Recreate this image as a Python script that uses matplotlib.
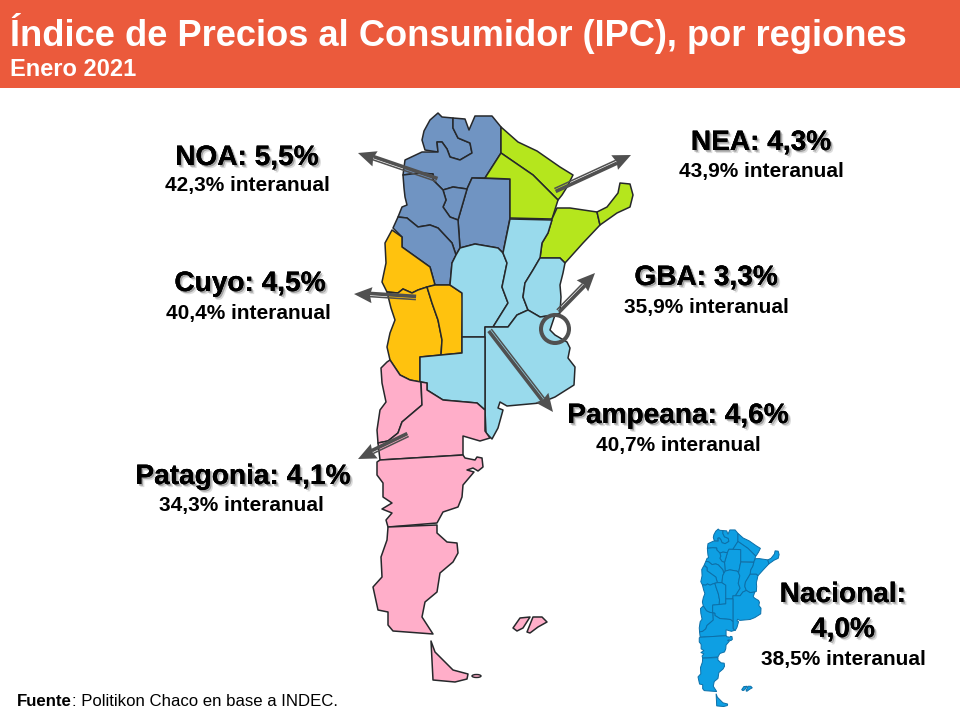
import matplotlib
matplotlib.use("Agg")
import matplotlib.pyplot as plt
from matplotlib.patches import Polygon, Circle, Rectangle, Ellipse
import matplotlib.patheffects as pe
import numpy as np

plt.rcParams['font.family'] = ['Liberation Sans', 'DejaVu Sans']

# text blocks
title = "Índice de Precios al Consumidor (IPC), por regiones"
subtitle = "Enero 2021"
source_bold = "Fuente"
source_rest = ": Politikon Chaco en base a INDEC."

region_names = ["NOA: 5,5%", "NEA: 4,3%", "Cuyo: 4,5%", "GBA: 3,3%", "Pampeana: 4,6%", "Patagonia: 4,1%"]
region_yoy = ["42,3% interanual", "43,9% interanual", "40,4% interanual",
              "35,9% interanual", "40,7% interanual", "34,3% interanual"]
name_x = [247, 761, 250, 706, 678, 243]
yoy_x = [247, 761, 248, 706, 678, 241]
name_y = [158, 143, 284, 278, 416, 477]
yoy_y = [186, 171, 313, 307, 445, 506]

# arrows, tail then head
arrow_tails = [(437, 180), (555, 190), (416, 298), (558, 311), (490, 330), (408, 435)]
arrow_heads = [(358, 153), (631, 155), (354, 294), (595, 273), (553, 412), (358, 459)]

# provinces, outlines in pixels
jujuy = [(438, 113), (442, 117), (453, 118), (453, 128), (458, 138), (470, 143), (472, 153), (460, 160), (450, 157),
         (447, 149), (442, 142), (437, 142), (438, 152), (425, 150), (422, 140), (424, 131), (430, 120)]
salta = [(453, 118), (465, 119), (469, 130), (475, 116), (492, 116), (501, 127), (501, 153), (485, 178), (472, 178),
         (467, 189), (453, 187), (443, 190), (433, 180), (433, 174), (420, 173), (403, 175), (405, 160), (422, 152),
         (438, 152), (437, 142), (442, 142), (447, 149), (450, 157), (460, 160), (472, 153), (470, 143), (458, 138),
         (453, 128)]
santiago = [(472, 178), (510, 179), (510, 218), (503, 253), (498, 248), (475, 244), (460, 248), (458, 220), (467, 189)]
tucuman = [(443, 190), (453, 187), (467, 189), (458, 220), (450, 217), (443, 207), (446, 200)]
catamarca = [(398, 217), (407, 218), (418, 227), (430, 225), (438, 228), (452, 243), (456, 255), (460, 248), (458, 220),
             (450, 217), (443, 207), (446, 200), (443, 190), (433, 180), (433, 174), (420, 173), (403, 175), (404, 188),
             (405, 197), (407, 205), (402, 207)]
la_rioja = [(398, 217), (393, 228), (402, 237), (402, 247), (430, 267), (435, 285), (450, 285), (452, 263), (456, 255),
            (452, 243), (438, 228), (430, 225), (418, 227), (407, 218)]
formosa = [(501, 127), (518, 142), (537, 151), (560, 167), (573, 175), (567, 187), (562, 195), (558, 200), (533, 175),
           (501, 153)]
chaco = [(501, 153), (533, 175), (558, 200), (552, 219), (510, 218), (510, 179), (485, 178)]
corrientes = [(540, 258), (542, 243), (548, 233), (552, 219), (557, 208), (570, 208), (597, 212), (600, 225), (583, 243),
              (565, 263), (560, 258)]
misiones = [(597, 212), (607, 207), (618, 193), (620, 183), (630, 184), (633, 195), (630, 207), (617, 213), (600, 225)]
san_juan = [(392, 230), (402, 237), (402, 247), (430, 267), (435, 285), (427, 287), (418, 290), (412, 293), (403, 289),
            (398, 293), (387, 292), (382, 282), (386, 263), (385, 243)]
mendoza = [(387, 292), (398, 293), (403, 289), (412, 293), (418, 290), (427, 287), (432, 303), (438, 320), (442, 340),
           (441, 355), (420, 357), (420, 382), (410, 380), (400, 375), (390, 360), (387, 347), (390, 333), (395, 320),
           (391, 308)]
san_luis = [(427, 287), (435, 285), (450, 285), (462, 293), (463, 300), (462, 333), (462, 353), (441, 355), (442, 340),
            (438, 320), (432, 303)]
cordoba = [(456, 255), (460, 248), (475, 244), (498, 248), (503, 253), (507, 263), (502, 287), (508, 303), (493, 327),
           (485, 327), (485, 337), (462, 337), (462, 293), (450, 285), (452, 263)]
santa_fe = [(510, 219), (552, 220), (548, 233), (542, 243), (540, 258), (533, 270), (525, 283), (523, 297), (528, 310),
            (517, 315), (508, 327), (493, 327), (508, 303), (502, 287), (507, 263), (503, 253)]
entre_rios = [(540, 258), (560, 258), (565, 263), (563, 273), (560, 285), (561, 297), (560, 313), (555, 315), (540, 317),
              (528, 310), (523, 297), (525, 283), (533, 270)]
buenos_aires = [(485, 327), (508, 327), (517, 315), (528, 310), (540, 317), (555, 315), (550, 330), (555, 335), (567, 342),
                (570, 348), (568, 358), (575, 367), (574, 385), (555, 397), (540, 403), (507, 406), (500, 402), (498, 408),
                (503, 410), (498, 428), (492, 439), (486, 433), (485, 410)]
la_pampa = [(420, 357), (441, 355), (462, 353), (462, 337), (485, 337), (485, 410), (477, 403), (443, 400), (427, 390),
            (427, 383), (420, 382)]
neuquen = [(387, 362), (381, 368), (382, 383), (386, 402), (380, 410), (377, 430), (378, 443), (388, 441), (398, 433),
           (402, 422), (422, 405), (421, 382), (410, 380), (400, 375), (390, 360)]
rio_negro = [(421, 382), (427, 383), (427, 390), (443, 400), (477, 403), (485, 410), (485, 431), (490, 438), (480, 441),
             (463, 436), (463, 455), (380, 460), (378, 443), (388, 441), (398, 433), (402, 422), (422, 405)]
chubut = [(380, 460), (463, 455), (465, 458), (475, 460), (477, 457), (482, 458), (483, 467), (478, 471), (473, 468),
          (467, 470), (474, 472), (463, 485), (462, 497), (458, 507), (443, 512), (437, 523), (388, 527), (386, 520),
          (392, 513), (382, 509), (392, 503), (383, 497), (383, 483), (377, 475), (377, 462)]
santa_cruz = [(388, 527), (437, 525), (437, 533), (447, 542), (457, 543), (458, 553), (453, 562), (440, 573), (437, 592),
              (425, 602), (422, 617), (433, 634), (393, 631), (388, 625), (388, 612), (378, 610), (373, 587), (382, 577),
              (381, 557), (387, 540)]
tierra_fuego = [(431, 641), (435, 652), (453, 670), (468, 674), (467, 679), (455, 682), (433, 680)]
malvinas_w = [(513, 628), (520, 618), (530, 617), (523, 628), (517, 631)]
malvinas_e = [(527, 632), (533, 617), (542, 617), (547, 622), (538, 627), (530, 633)]

noa = [jujuy, salta, santiago, tucuman, catamarca, la_rioja]
nea = [formosa, chaco, corrientes, misiones]
cuyo = [san_juan, mendoza, san_luis]
pampeana = [cordoba, santa_fe, entre_rios, buenos_aires, la_pampa]
patagonia = [neuquen, rio_negro, chubut, santa_cruz, tierra_fuego, malvinas_w, malvinas_e]

regions = [noa, nea, cuyo, pampeana, patagonia]
region_colors = ["#7094C2", "#B5E61D", "#FFC20E", "#99DAEC", "#FFAEC9"]

fig = plt.figure(figsize=(9.6, 7.2), dpi=100)
ax = fig.add_axes([0, 0, 1, 1])
ax.set_xlim(0, 960)
ax.set_ylim(720, 0)
ax.axis("off")

ax.add_patch(Rectangle((0, 0), 960, 88, color="#EB5A3C", lw=0))
ax.text(10, 33, title, color="white", fontsize=26.1, fontweight="bold", va="center", ha="left")
ax.text(10, 70, subtitle, color="white", fontsize=17, fontweight="bold", va="center", ha="left")

# main map
for provinces, color in zip(regions, region_colors):
    for prov in provinces:
        ax.add_patch(Polygon(prov, closed=True, fc=color, ec="#26282b", lw=1.1, joinstyle="round", zorder=2))
ax.add_patch(Ellipse((476.5, 676), 9, 3, fc="#FFAEC9", ec="#26282b", lw=1, zorder=2))

# small map bottom right, same outlines scaled down
scale = 0.312
for provinces in regions:
    for prov in provinces:
        small = [(698 + (x - 373) * scale, 529 + (y - 113) * scale) for x, y in prov]
        ax.add_patch(Polygon(small, closed=True, fc="#0E9FE3", ec="#0C6FA8", lw=0.7, zorder=2))

# arrows, two lines side by side and a solid head
for tail, head in zip(arrow_tails, arrow_heads):
    tail = np.array(tail, dtype=float)
    head = np.array(head, dtype=float)
    d = (head - tail) / np.linalg.norm(head - tail)
    n = np.array([-d[1], d[0]])
    base = head - d * 18
    notch = head - d * 16
    for off, lw in [(1.6, 2.6), (-1.6, 1.1)]:
        a = tail + n * off
        b = notch + n * off
        ax.plot([a[0], b[0]], [a[1], b[1]], color="#505050", lw=lw, solid_capstyle="butt", zorder=4)
    ax.add_patch(Polygon([head, base + n * 8, notch, base - n * 8], closed=True, fc="#505050", ec="none", zorder=5))

ax.add_patch(Circle((555, 329), 14, fc="none", ec="#505050", lw=2.9, zorder=4))

shadow = [pe.withSimplePatchShadow(offset=(2.2, -2.2), shadow_rgbFace="#777777", alpha=0.25),
          pe.withSimplePatchShadow(offset=(1.2, -1.2), shadow_rgbFace="#555555", alpha=0.45),
          pe.Normal()]

for name, yoy, x, x2, y1, y2 in zip(region_names, region_yoy, name_x, yoy_x, name_y, yoy_y):
    ax.text(x, y1, name, color="black", fontsize=20.2, fontweight="bold", ha="center", va="center",
            path_effects=shadow, zorder=6)
    ax.text(x2, y2, yoy, color="black", fontsize=15, fontweight="bold", ha="center", va="center", zorder=6)

ax.text(843, 595, "Nacional:", color="black", fontsize=20.2, fontweight="bold", ha="center", va="center",
        path_effects=shadow, zorder=6)
ax.text(843, 630, "4,0%", color="black", fontsize=20.2, fontweight="bold", ha="center", va="center",
        path_effects=shadow, zorder=6)
ax.text(843, 659, "38,5% interanual", color="black", fontsize=15, fontweight="bold", ha="center", va="center", zorder=6)

src = ax.text(17, 701, source_bold, color="black", fontsize=12.1, fontweight="bold", ha="left", va="center")
ax.annotate(source_rest, xy=(1, 0.5), xycoords=src, va="center", ha="left", fontsize=12.1, color="black")

fig.savefig("out.png", dpi=100)
